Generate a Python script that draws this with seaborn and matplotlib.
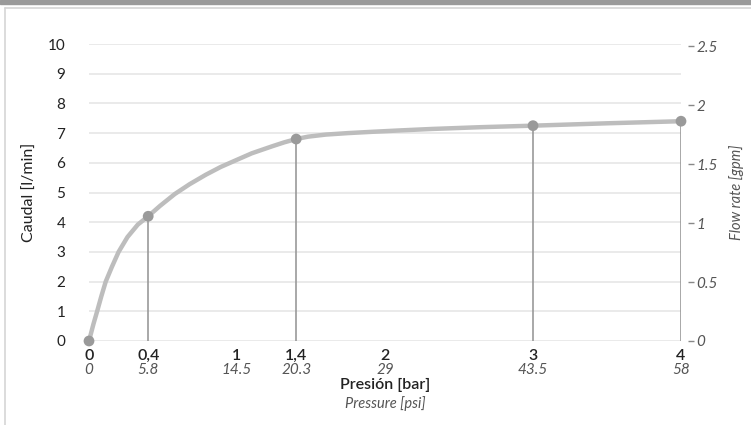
import numpy as np
import pandas as pd
import matplotlib
matplotlib.use("Agg")
import matplotlib.pyplot as plt
import matplotlib.transforms as mtransforms
from matplotlib.lines import Line2D
from matplotlib.patches import Rectangle
import seaborn as sns

# measured points (bar, l/min)
point_bar = [0, 0.4, 1.4, 3, 4]
point_lpm = [0, 4.2, 6.8, 7.25, 7.4]

# smooth curve
curve_bar = [0, 0.03, 0.055, 0.083, 0.113, 0.155, 0.20, 0.26, 0.33, 0.40, 0.48, 0.58, 0.68, 0.79,
             0.89, 0.99, 1.10, 1.24, 1.32, 1.40, 1.48, 1.60, 1.75, 1.90, 2.10, 2.32, 2.65, 3.0,
             3.5, 4.0]
curve_lpm = [0, 0.57, 1.0, 1.5, 2.0, 2.5, 3.0, 3.5, 3.92, 4.2, 4.55, 4.95, 5.28, 5.6,
             5.86, 6.08, 6.32, 6.56, 6.69, 6.8, 6.88, 6.95, 7.0, 7.04, 7.09, 7.14, 7.2, 7.25,
             7.33, 7.4]

xtick_bar = [0, 0.4, 1, 1.4, 2, 3, 4]
xtick_bar_labels = ["0", "0,4", "1", "1,4", "2", "3", "4"]
xtick_psi_labels = ["0", "5.8", "14.5", "20.3", "29", "43.5", "58"]
ytick_lpm = list(range(0, 11))
ytick_gpm = [0, 0.5, 1, 1.5, 2, 2.5]
ytick_gpm_labels = ["0", "0.5", "1", "1.5", "2", "2.5"]

sns.set_theme(style="white")
plt.rcParams['font.family'] = ['Lato', 'DejaVu Sans']

dark = "#222222"
grey_txt = "#555555"

fig = plt.figure(figsize=(7.51, 4.25), dpi=100)
ax = fig.add_axes([89 / 751, 1 - 341 / 425, (681 - 89) / 751, (341 - 44) / 425])

# frame decorations
fig.patches.append(Rectangle((0, 1 - 3.5 / 425), 1, 3.5 / 425, transform=fig.transFigure,
                             color="#9a9a9a", zorder=0))
fig.lines.append(Line2D([5 / 751, 1], [1 - 8 / 425, 1 - 8 / 425], transform=fig.transFigure,
                        color="#d5d5d5", lw=1.2))
fig.lines.append(Line2D([5 / 751, 5 / 751], [0, 1 - 8 / 425], transform=fig.transFigure,
                        color="#d5d5d5", lw=1.2))

curve = pd.DataFrame({"bar": curve_bar, "lpm": curve_lpm})
pts = pd.DataFrame({"bar": point_bar, "lpm": point_lpm})

ax.vlines(pts["bar"][1:], 0, pts["lpm"][1:], color="#999999", lw=1.2, zorder=2)
sns.lineplot(data=curve, x="bar", y="lpm", ax=ax, color="#bdbdbd", lw=3.2, sort=False,
             zorder=3, clip_on=False)
sns.scatterplot(data=pts, x="bar", y="lpm", ax=ax, color="#9a9a9a", s=60, edgecolor="none",
                zorder=4, clip_on=False)

ax.set_xlim(0, 4)
ax.set_ylim(0, 10)
ax.set_frame_on(False)
ax.set_yticks(ytick_lpm)
ax.yaxis.grid(True, color="#e6e6e6", lw=1.2)
ax.set_axisbelow(True)
ax.tick_params(axis="y", length=0, pad=17, labelsize=11, labelcolor=dark)
ax.set_xticks(xtick_bar)
ax.set_xticklabels(xtick_bar_labels, fontsize=11.5, color=dark, fontweight="semibold")
ax.tick_params(axis="x", length=0, pad=6)
trans = mtransforms.blended_transform_factory(ax.transData, ax.transAxes)
for xv, lab in zip(xtick_bar, xtick_psi_labels):
    ax.text(xv, -0.099, lab, transform=trans, ha="center", va="center", fontsize=11,
            style="italic", color=grey_txt)
ax.set_xlabel("")
ax.set_ylabel("Caudal [l/min]", fontsize=11.5, color=dark, labelpad=8)
ax.text(0.5, -0.148, "Presión [bar]", transform=ax.transAxes, ha="center", va="center",
        fontsize=11.5, fontweight="semibold", color=dark)
ax.text(0.5, -0.21, "Pressure [psi]", transform=ax.transAxes, ha="center", va="center",
        fontsize=10.5, style="italic", color=grey_txt)

ax2 = ax.twinx()
ax2.spines["right"].set_position(("outward", 5))
ax2.set_frame_on(False)
ax2.set_ylim(0, 2.52)
ax2.set_yticks(ytick_gpm)
ax2.set_yticklabels(ytick_gpm_labels, style="italic")
ax2.tick_params(axis="y", right=True, length=4, width=1, color="#888888", pad=2,
                labelsize=11, labelcolor=grey_txt)
ax2.set_ylabel("Flow rate [gpm]", fontsize=10.5, style="italic", color=grey_txt, labelpad=8)

fig.savefig("out.png", dpi=100)
